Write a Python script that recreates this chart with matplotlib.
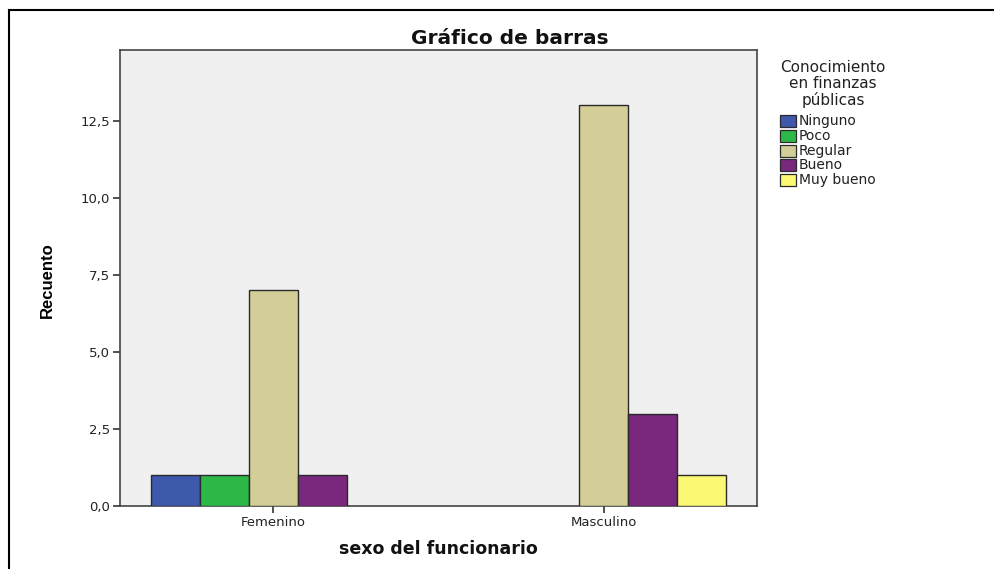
import matplotlib
matplotlib.use("Agg")
import matplotlib.pyplot as plt
from matplotlib.patches import Rectangle
from matplotlib.lines import Line2D
import numpy as np

categories = ["Femenino", "Masculino"]
levels = ["Ninguno", "Poco", "Regular", "Bueno", "Muy bueno"]
ninguno = [1, 0]
poco = [1, 0]
regular = [7, 13]
bueno = [1, 3]
muy_bueno = [0, 1]
colors = ["#3E58AC", "#2EB848", "#D3CE97", "#79287D", "#FBF873"]
yticks = [0.0, 2.5, 5.0, 7.5, 10.0, 12.5]

series = [ninguno, poco, regular, bueno, muy_bueno]

W, H = 995, 569
fig = plt.figure(figsize=(W / 100, H / 100), dpi=100)
fig.patch.set_facecolor("white")
ax = fig.add_axes([120 / W, 1 - 506 / H, (757 - 120) / W, (506 - 50) / H])
ax.set_facecolor("#F0F0F0")

x = np.arange(len(categories))
width = 0.148
for i, (vals, col) in enumerate(zip(series, colors)):
    offs = (i - 2) * width
    for xi, v in zip(x, vals):
        if v > 0:
            ax.bar(xi + offs, v, width=width, color=col, edgecolor="#2a2a2a",
                   linewidth=1.0, zorder=3)

ax.set_xlim(-0.464, 1.463)
ax.set_ylim(0, 14.8)
ax.set_xticks(x)
ax.set_xticklabels(categories, fontsize=9.5, family="DejaVu Sans", color="#222222")
ax.set_yticks(yticks)
ax.set_yticklabels([f"{t:.1f}".replace(".", ",") for t in yticks],
                   fontsize=9.5, family="DejaVu Sans", color="#222222")
ax.tick_params(axis="both", length=5, width=1.2, color="#333333", pad=2)
for s in ax.spines.values():
    s.set_color("#444444")
    s.set_linewidth(1.2)

fig.text(509.5 / W, 1 - 38.5 / H, "Gráfico de barras", ha="center", va="center",
         fontsize=14.5, fontweight="bold", family="DejaVu Sans", color="#111111")
fig.text(47 / W, 1 - 280 / H, "Recuento", ha="center", va="center", rotation=90,
         fontsize=12, fontweight="bold", family=["Liberation Sans", "DejaVu Sans"])
fig.text(438 / W, 1 - 549 / H, "sexo del funcionario", ha="center", va="center",
         fontsize=12.5, fontweight="bold", family="DejaVu Sans", color="#111111")

# legend title
fig.text(833 / W, 1 - 84 / H, "Conocimiento\nen finanzas\npúblicas", ha="center",
         va="center", fontsize=11, family="DejaVu Sans",
         color="#222222", linespacing=1.05)

# legend entries
row_y = 121
row_step = 14.8
for k, (lab, col) in enumerate(zip(levels, colors)):
    yc = row_y + k * row_step
    fig.add_artist(Rectangle((780 / W, 1 - (yc + 6) / H), 16 / W, 12 / H,
                             facecolor=col, edgecolor="#2a2a2a", linewidth=0.9,
                             transform=fig.transFigure))
    fig.text(799 / W, 1 - yc / H, lab, ha="left", va="center", fontsize=10,
             family="DejaVu Sans", color="#222222")

# outer frame around the chart
fig.add_artist(Line2D([9 / W, 9 / W], [0, 1 - 10 / H], color="black",
                      linewidth=1.5, transform=fig.transFigure))
fig.add_artist(Line2D([9 / W, 1], [1 - 10 / H, 1 - 10 / H], color="black",
                      linewidth=1.5, transform=fig.transFigure))

fig.savefig("out.png", dpi=100)
